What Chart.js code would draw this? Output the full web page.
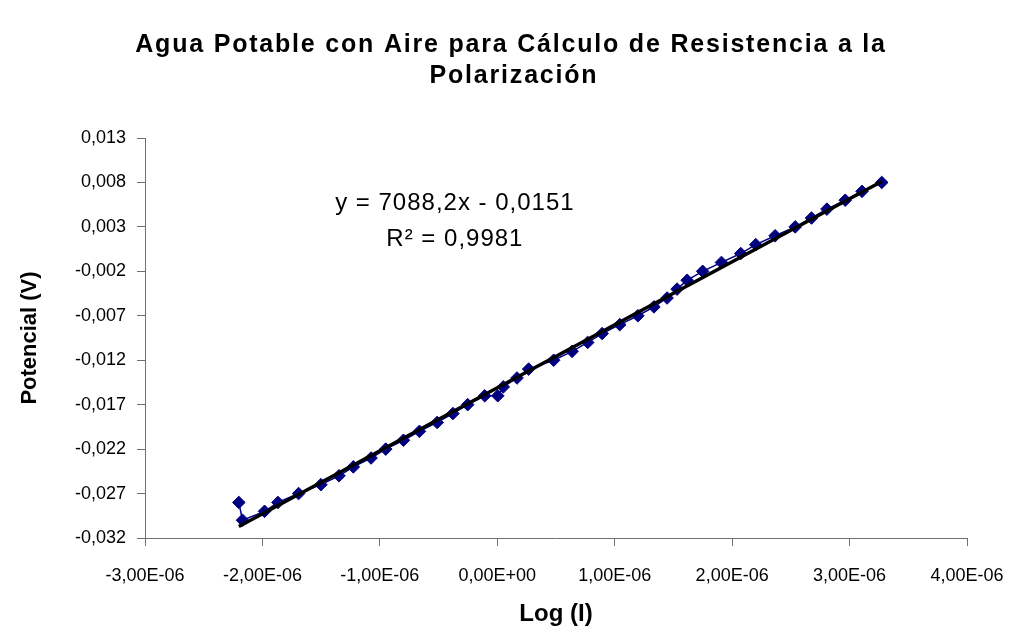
<!DOCTYPE html>
<html><head><meta charset="utf-8">
<script src="https://cdn.jsdelivr.net/npm/chart.js@4.4.1/dist/chart.umd.min.js"></script>
<style>html,body{margin:0;padding:0;background:#fff;}canvas{display:block;}</style>
</head><body>
<canvas id="c" width="1029" height="642"></canvas>
<script>
const TITLE_LINES = ['Agua Potable con Aire para Cálculo de Resistencia a la', 'Polarización'];
const X_TITLE = 'Log (I)';
const Y_TITLE = 'Potencial (V)';

const LOG_I = [-2.201e-6, -2.170e-6, -1.982e-6, -1.868e-6, -1.692e-6, -1.502e-6, -1.348e-6, -1.226e-6,
  -1.075e-6, -0.950e-6, -0.799e-6, -0.663e-6, -0.512e-6, -0.378e-6, -0.252e-6, -0.107e-6,
  0.004e-6, 0.051e-6, 0.168e-6, 0.267e-6, 0.480e-6, 0.637e-6, 0.770e-6, 0.893e-6,
  1.043e-6, 1.197e-6, 1.334e-6, 1.446e-6, 1.531e-6, 1.617e-6, 1.749e-6, 1.909e-6,
  2.073e-6, 2.201e-6, 2.366e-6, 2.537e-6, 2.676e-6, 2.807e-6, 2.963e-6, 3.106e-6, 3.274e-6];
const POTENCIAL = [-0.028, -0.030, -0.029, -0.028, -0.027, -0.026, -0.025, -0.024,
  -0.023, -0.022, -0.021, -0.020, -0.019, -0.018, -0.017, -0.016,
  -0.016, -0.015, -0.014, -0.013, -0.012, -0.011, -0.010, -0.009,
  -0.008, -0.007, -0.006, -0.005, -0.004, -0.003, -0.002, -0.001,
  0.000, 0.001, 0.002, 0.003, 0.004, 0.005, 0.006, 0.007, 0.008];

const X_TICKS = [-3e-6, -2e-6, -1e-6, 0, 1e-6, 2e-6, 3e-6, 4e-6];
const X_TICK_LABELS = ['-3,00E-06', '-2,00E-06', '-1,00E-06', '0,00E+00', '1,00E-06', '2,00E-06', '3,00E-06', '4,00E-06'];
const Y_TICKS = [-0.032, -0.027, -0.022, -0.017, -0.012, -0.007, -0.002, 0.003, 0.008, 0.013];
const Y_TICK_LABELS = ['-0,032', '-0,027', '-0,022', '-0,017', '-0,012', '-0,007', '-0,002', '0,003', '0,008', '0,013'];

const SLOPE = 7088.2;
const INTERCEPT = -0.0151;
const EQ_TEXT = 'y = 7088,2x - 0,0151';
const R2_TEXT = 'R² = 0,9981';

const points = LOG_I.map((x, i) => ({x: x, y: POTENCIAL[i]}));
const xMin = Math.min(...LOG_I), xMax = Math.max(...LOG_I);
const trend = [xMin, xMax].map(x => ({x: x, y: SLOPE * x + INTERCEPT}));

const FONT = "'Liberation Sans', Arial, sans-serif";
const AXIS_COLOR = '#707070';

const textPlugin = {
  id: 'texts',
  afterDraw(chart) {
    const {ctx, chartArea: ca} = chart;
    ctx.save();
    ctx.fillStyle = '#000';
    ctx.textAlign = 'center';
    ctx.textBaseline = 'middle';
    // chart title
    ctx.font = 'bold 25px ' + FONT;
    ctx.letterSpacing = '1.8px';
    ctx.fillText(TITLE_LINES[0], 511, 45);
    ctx.fillText(TITLE_LINES[1], 514, 76);
    // trendline equation
    const cx = ca.left + ca.width * 0.377;
    ctx.font = '24px ' + FONT;
    ctx.letterSpacing = '1px';
    ctx.fillText(EQ_TEXT, cx, ca.top + ca.height * 0.163);
    ctx.fillText(R2_TEXT, cx, ca.top + ca.height * 0.253);
    ctx.restore();
  }
};

new Chart(document.getElementById('c'), {
  type: 'scatter',
  data: {
    datasets: [
      {
        label: 'Tendencia',
        data: trend,
        showLine: true,
        borderColor: '#000000',
        borderWidth: 3.5,
        pointRadius: 0,
        order: 0
      },
      {
        label: 'Potencial',
        data: points,
        showLine: true,
        borderColor: '#000080',
        borderWidth: 1.5,
        backgroundColor: '#000080',
        pointBackgroundColor: '#000080',
        pointBorderColor: '#000080',
        pointBorderWidth: 1,
        pointStyle: 'rectRot',
        pointRadius: 6.3,
        order: 1
      }
    ]
  },
  options: {
    responsive: false,
    animation: false,
    devicePixelRatio: 1,
    layout: {padding: {top: 138, left: 0, right: 62, bottom: 0}},
    plugins: {
      legend: {display: false},
      tooltip: {enabled: false},
      title: {display: false}
    },
    scales: {
      x: {
        type: 'linear',
        min: -3e-6,
        max: 4e-6,
        afterBuildTicks: (s) => { s.ticks = X_TICKS.map(v => ({value: v})); },
        afterFit: (s) => { s.height = 104; },
        ticks: {
          autoSkip: false, maxRotation: 0, color: '#000', padding: 19,
          font: {family: FONT, size: 18},
          callback: (v, i) => X_TICK_LABELS[i]
        },
        grid: {drawOnChartArea: false, drawTicks: true, tickLength: 8, color: AXIS_COLOR},
        border: {display: true, color: AXIS_COLOR, width: 1},
        title: {display: true, text: X_TITLE, color: '#000', font: {family: FONT, size: 24, weight: 'bold'}, padding: {top: 0, bottom: 13}}
      },
      y: {
        type: 'linear',
        min: -0.032,
        max: 0.013,
        afterBuildTicks: (s) => { s.ticks = Y_TICKS.map(v => ({value: v})); },
        afterFit: (s) => { s.width = 145; },
        ticks: {
          autoSkip: false, color: '#000', padding: 11,
          font: {family: FONT, size: 18},
          callback: (v, i) => Y_TICK_LABELS[i]
        },
        grid: {drawOnChartArea: false, drawTicks: true, tickLength: 8, color: AXIS_COLOR},
        border: {display: true, color: AXIS_COLOR, width: 1},
        title: {display: true, text: Y_TITLE, color: '#000', font: {family: FONT, size: 22, weight: 'bold'}, padding: {top: 17, bottom: 0}}
      }
    }
  },
  plugins: [textPlugin]
});
</script>
</body></html>
